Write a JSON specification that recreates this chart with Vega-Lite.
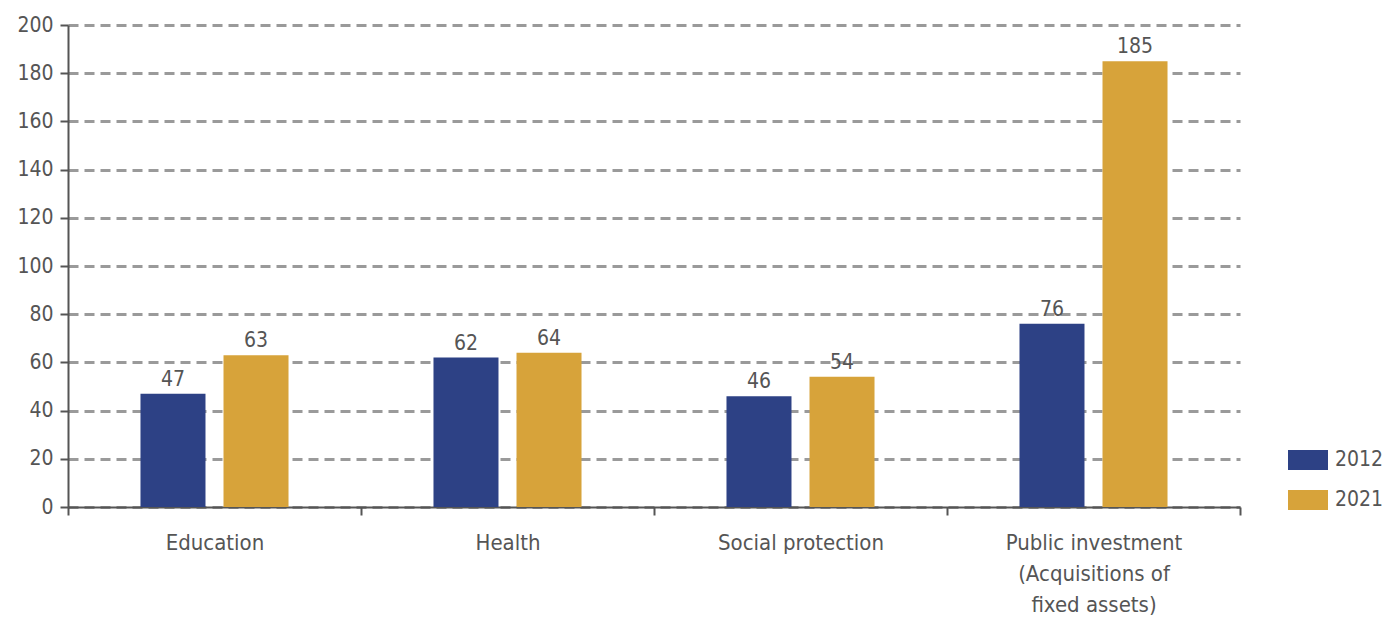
{
  "$schema": "https://vega.github.io/schema/vega-lite/v6.json",
  "width": 1172,
  "height": 482,
  "autosize": {"type": "none"},
  "padding": {"left": 68, "top": 25, "right": 152, "bottom": 113},
  "background": "white",
  "config": {
    "view": {"stroke": null},
    "font": "DejaVu Sans Condensed, sans-serif"
  },
  "data": {
    "values": [
      {"category": "Education", "year": "2012", "value": 47},
      {"category": "Education", "year": "2021", "value": 63},
      {"category": "Health", "year": "2012", "value": 62},
      {"category": "Health", "year": "2021", "value": 64},
      {"category": "Social protection", "year": "2012", "value": 46},
      {"category": "Social protection", "year": "2021", "value": 54},
      {"category": "Public investment|(Acquisitions of|fixed assets)", "year": "2012", "value": 76},
      {"category": "Public investment|(Acquisitions of|fixed assets)", "year": "2021", "value": 185}
    ]
  },
  "encoding": {
    "x": {
      "field": "category",
      "type": "nominal",
      "sort": null,
      "title": null,
      "scale": {"paddingInner": 0, "paddingOuter": 0},
      "axis": {
        "tickBand": "extent",
        "labelAngle": 0,
        "labelExpr": "split(datum.label, '|')",
        "labelFontSize": 22,
        "labelColor": "#555555",
        "labelPadding": 17,
        "labelLineHeight": 31,
        "labelBaseline": "top",
        "domainColor": "#555555",
        "domainWidth": 2,
        "tickColor": "#555555",
        "tickWidth": 2,
        "tickSize": 8,
        "grid": false
      }
    },
    "xOffset": {
      "field": "year",
      "type": "nominal",
      "scale": {"paddingInner": 0.217, "paddingOuter": 0.873}
    },
    "y": {
      "field": "value",
      "type": "quantitative",
      "title": null,
      "scale": {"domain": [0, 200]},
      "axis": {
        "values": [0, 20, 40, 60, 80, 100, 120, 140, 160, 180, 200],
        "labelFontSize": 21,
        "labelColor": "#555555",
        "labelPadding": 7,
        "domainColor": "#555555",
        "domainWidth": 2,
        "tickColor": "#555555",
        "tickWidth": 2,
        "tickSize": 8,
        "gridColor": "#9a9a9a",
        "gridWidth": 3,
        "gridDash": [10, 6]
      }
    }
  },
  "layer": [
    {
      "mark": {"type": "bar"},
      "encoding": {
        "color": {
          "field": "year",
          "type": "nominal",
          "title": null,
          "scale": {"domain": ["2012", "2021"], "range": ["#2d4185", "#d7a33a"]},
          "legend": {
            "orient": "none",
            "legendX": 1220,
            "legendY": 415,
            "symbolType": "M-1,-0.5H1V0.5H-1Z",
            "symbolSize": 1600,
            "symbolStrokeWidth": 0,
            "labelFontSize": 21,
            "labelColor": "#555555",
            "labelOffset": 7,
            "rowPadding": 10
          }
        }
      }
    },
    {
      "mark": {"type": "text", "baseline": "bottom", "dy": -4, "fontSize": 21, "color": "#555555"},
      "encoding": {
        "text": {"field": "value", "type": "quantitative"}
      }
    }
  ]
}
